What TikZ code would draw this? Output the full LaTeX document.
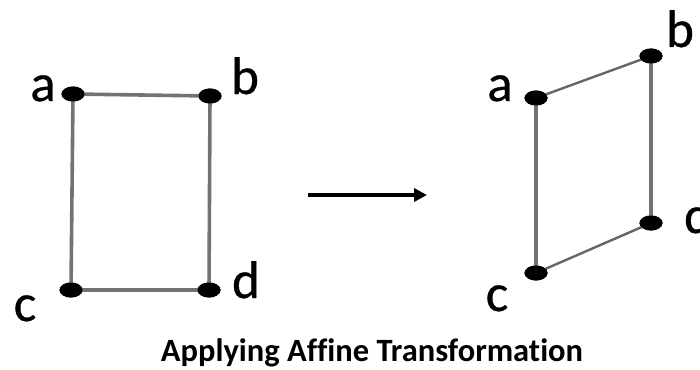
\documentclass[tikz,border=0pt]{standalone}
\usepackage{fontspec}
\setmainfont{Carlito}[Ligatures=NoCommon]
\newfontfamily\lblfont[FakeBold=0.6]{Carlito}
\usetikzlibrary{arrows.meta,shapes.geometric}
\begin{document}
\begin{tikzpicture}[x=1pt,y=-1pt,
  vertex/.style={ellipse,fill=black,minimum width=23pt,minimum height=15pt,inner sep=0pt},
  edge/.style={draw=black!55,line width=3.6pt},
  thinedge/.style={draw=black!60,line width=2.4pt},
  lbl/.style={anchor=base,inner sep=0pt,font=\lblfont\fontsize{53}{53}\selectfont}]
\useasboundingbox[fill=white] (0,0) rectangle (700,369);
% left rectangle
\node[vertex] (a1) at (73,94) {};
\node[vertex] (b1) at (210,96) {};
\node[vertex] (c1) at (71,290) {};
\node[vertex] (d1) at (209,290) {};
\draw[edge] (a1.center) -- (b1.center) -- (d1.center) -- (c1.center) -- cycle;
\node[vertex] at (a1) {};
\node[vertex] at (b1) {};
\node[vertex] at (c1) {};
\node[vertex] at (d1) {};
\node[lbl] (la1) at (43,101) {a};
\node[lbl] (lb1) at (245,94) {b};
\node[lbl] (lc1) at (25,321) {c};
\node[lbl] (ld1) at (246,298) {d};
% arrow
\coordinate (s) at (308,195);
\coordinate (t) at (427,195);
\draw[line width=3.4pt,-{Triangle[length=13pt,width=13pt]}] (s) -- (t);
% right parallelogram
\node[vertex] (a2) at (536,98) {};
\node[vertex] (b2) at (651,56) {};
\node[vertex] (c2) at (536,273) {};
\node[vertex] (d2) at (651,223) {};
\draw[edge] (a2.center) -- (c2.center);
\draw[edge] (b2.center) -- (d2.center);
\draw[thinedge] (a2.center) -- (b2.center);
\draw[thinedge] (c2.center) -- (d2.center);
\node[vertex] at (a2) {};
\node[vertex] at (b2) {};
\node[vertex] at (c2) {};
\node[vertex] at (d2) {};
\node[lbl] (la2) at (500,101) {a};
\node[lbl] (lb2) at (680,47) {b};
\node[lbl] (lc2) at (497,311) {c};
\node[lbl] (ld2) at (698,233) {d};
% title
\node[anchor=base,inner sep=0pt,font=\bfseries\fontsize{32.5}{32.5}\selectfont] (title) at (372,361.5) {Applying Affine Transformation};
\end{tikzpicture}
\end{document}
